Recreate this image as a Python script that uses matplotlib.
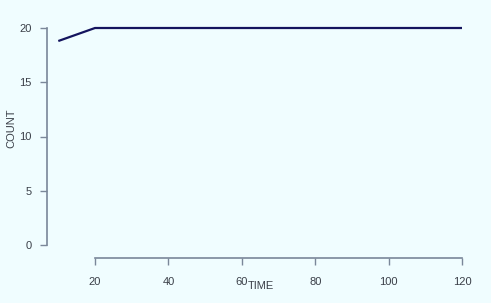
import matplotlib
matplotlib.use("Agg")
import matplotlib.pyplot as plt

time = [10, 20, 30, 40, 50, 60, 70, 80, 90, 100, 110, 120]
count = [18.8, 20, 20, 20, 20, 20, 20, 20, 20, 20, 20, 20]
xticks = [20, 40, 60, 80, 100, 120]
yticks = [0, 5, 10, 15, 20]

plt.rcParams['font.family'] = ['Liberation Sans', 'DejaVu Sans']
W, H = 491, 303
bg = '#f0fdff'
fig = plt.figure(figsize=(W/100, H/100), dpi=100, facecolor=bg)
L, R, T, B = 47, 470, 20, 258
ax = fig.add_axes([L/W, 1-B/H, (R-L)/W, (B-T)/H])
ax.set_facecolor(bg)
ax.plot(time, count, color='#14145e', lw=1.6, solid_capstyle='butt')

px_per_x = (462-95)/100
ax.set_xlim(20-(95-L)/px_per_x, 120+(R-462)/px_per_x)
px_per_y = (245-28)/20
ax.set_ylim(0-(B-245)/px_per_y, 20+(28-T)/px_per_y)

for s in ['top', 'right']:
    ax.spines[s].set_visible(False)
sc = '#7a8799'
ax.spines['left'].set_bounds(0, 20)
ax.spines['bottom'].set_bounds(20, 120)
ax.spines['left'].set_color(sc)
ax.spines['bottom'].set_color(sc)
ax.spines['left'].set_linewidth(1.2)
ax.spines['bottom'].set_linewidth(1.2)

ax.set_xticks(xticks)
ax.set_yticks(yticks)
ax.set_xticklabels([str(v) for v in xticks])
ax.set_yticklabels([str(v) for v in yticks])
ax.tick_params(axis='both', colors=sc, labelcolor='#3a3f48', labelsize=8, length=5, width=1)
ax.tick_params(axis='x', pad=9)
ax.tick_params(axis='y', pad=6)

ax.set_xlabel('TIME', fontsize=8, color='#3a3f48')
ax.xaxis.set_label_coords((261-L)/(R-L), (B-281)/(B-T))
ax.set_ylabel('COUNT', fontsize=8, color='#3a3f48')
ax.yaxis.set_label_coords((16-L)/(R-L), (B-128)/(B-T))

fig.savefig('out.png', dpi=100, facecolor=bg)
